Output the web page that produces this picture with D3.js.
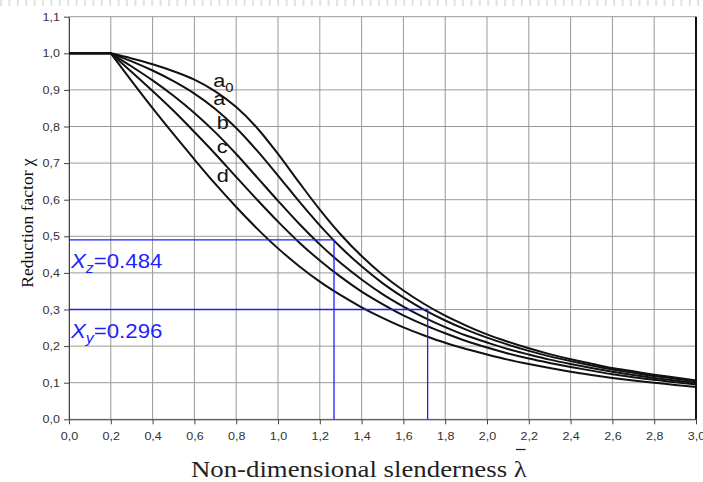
<!DOCTYPE html>
<html>
<head>
<meta charset="utf-8">
<script src="https://cdn.jsdelivr.net/npm/d3@7"></script>
<style>
	body { margin: 0; background: #fff; }
	svg { display: block; }
	.tick text { font-family: Arial, "Liberation Sans", sans-serif; font-size: 11px; fill: #333; }
</style>
</head>
<body>
<svg width="703" height="482"></svg>
<script>
// slenderness values
var lambdas = [0, 0.1, 0.2, 0.3, 0.4, 0.5, 0.6, 0.7, 0.8, 0.9, 1.0, 1.1, 1.2, 1.3, 1.4, 1.5,
	1.6, 1.7, 1.8, 1.9, 2.0, 2.1, 2.2, 2.3, 2.4, 2.5, 2.6, 2.7, 2.8, 2.9, 3.0]

// reduction factor
var curveA0 = [1, 1, 1, 0.986, 0.970, 0.951, 0.928, 0.896, 0.853, 0.796, 0.725, 0.648, 0.573, 0.505, 0.446, 0.395,
	0.352, 0.315, 0.283, 0.256, 0.232, 0.212, 0.194, 0.178, 0.164, 0.152, 0.140, 0.131, 0.122, 0.114, 0.106]
var curveA = [1, 1, 1, 0.978, 0.953, 0.924, 0.890, 0.848, 0.796, 0.734, 0.666, 0.596, 0.530, 0.470, 0.418, 0.372,
	0.333, 0.299, 0.270, 0.245, 0.223, 0.204, 0.187, 0.172, 0.159, 0.147, 0.136, 0.127, 0.118, 0.111, 0.104]
var curveB = [1, 1, 1, 0.964, 0.926, 0.884, 0.837, 0.784, 0.725, 0.661, 0.597, 0.535, 0.478, 0.427, 0.382, 0.342,
	0.308, 0.278, 0.252, 0.229, 0.210, 0.192, 0.177, 0.163, 0.151, 0.140, 0.130, 0.121, 0.113, 0.106, 0.099]
var curveC = [1, 1, 1, 0.949, 0.897, 0.843, 0.785, 0.725, 0.662, 0.600, 0.540, 0.484, 0.434, 0.389, 0.349, 0.315,
	0.284, 0.258, 0.235, 0.214, 0.196, 0.180, 0.166, 0.154, 0.143, 0.133, 0.123, 0.115, 0.108, 0.101, 0.095]
var curveD = [1, 1, 1, 0.924, 0.850, 0.779, 0.710, 0.643, 0.580, 0.521, 0.467, 0.419, 0.376, 0.339, 0.306, 0.277,
	0.251, 0.229, 0.209, 0.192, 0.177, 0.163, 0.151, 0.140, 0.130, 0.121, 0.113, 0.106, 0.100, 0.094, 0.088]

var curveNames = ["a0", "a", "b", "c", "d"]
var curveValues = [curveA0, curveA, curveB, curveC, curveD]
// where each curve name sits (lambda, chi)
var labelLambda = [0.69, 0.69, 0.707, 0.707, 0.707]
var labelChi = [0.908, 0.858, 0.793, 0.727, 0.647]

// design points
var markLambda = [1.268, 1.716]
var markChi = [0.49, 0.30]
var markSub = ["z", "y"]
var markText = ["=0.484", "=0.296"]

var xTicks = d3.range(0, 3.01, 0.2)
var yTicks = d3.range(0, 1.11, 0.1)
var commaFmt = function (d) { return d3.format(".1f")(d).replace(".", ",") }
var stretch = 1.14 // the picture is a bit wider than tall

var svg = d3.select("svg")
var x = d3.scaleLinear().domain([0, 3]).range([69, 696])
var y = d3.scaleLinear().domain([0, 1.1]).range([419.3, 16.7])

// faint dashed strip along the top edge
svg.append("line")
	.attr("x1", 0).attr("x2", 703).attr("y1", 3).attr("y2", 3)
	.attr("stroke", "#e2e2e2").attr("stroke-width", 6).attr("stroke-dasharray", "2,6.4")

// grid
var grid = svg.append("g").attr("stroke", "#999").attr("stroke-width", 1)
grid.selectAll(".gx").data(xTicks).enter().append("line")
	.attr("x1", function (d) { return x(d) }).attr("x2", function (d) { return x(d) })
	.attr("y1", y(1.1)).attr("y2", y(0))
grid.selectAll(".gy").data(yTicks).enter().append("line")
	.attr("x1", x(0)).attr("x2", x(3))
	.attr("y1", function (d) { return y(d) }).attr("y2", function (d) { return y(d) })

// axes
var xAxis = svg.append("g")
	.attr("transform", "translate(0," + y(0) + ")")
	.call(d3.axisBottom(x).tickValues(xTicks).tickFormat(commaFmt).tickSize(5).tickSizeOuter(0).tickPadding(8))
var yAxis = svg.append("g")
	.attr("transform", "translate(" + x(0) + ",0)")
	.call(d3.axisLeft(y).tickValues(yTicks).tickFormat(commaFmt).tickSize(5).tickSizeOuter(0).tickPadding(4))
xAxis.selectAll("path, line").attr("stroke", "#444")
yAxis.selectAll("path, line").attr("stroke", "#444")
xAxis.selectAll(".tick text").attr("transform", "scale(" + stretch + ",1)")
yAxis.selectAll(".tick text").attr("x", 0).attr("transform", "translate(-9,0) scale(" + stretch + ",1)")

// right border
svg.append("line")
	.attr("x1", x(3)).attr("x2", x(3)).attr("y1", y(1.1)).attr("y2", y(0))
	.attr("stroke", "#111").attr("stroke-width", 2)

// curves: flat part up to 0.2, then the falling branch
var line = d3.line()
	.x(function (d) { return x(d[0]) })
	.y(function (d) { return y(d[1]) })
	.curve(d3.curveMonotoneX)
var curves = svg.append("g").attr("fill", "none").attr("stroke", "#111").attr("stroke-width", 2)
curveValues.forEach(function (vals) {
	var pts = vals.map(function (v, i) { return [lambdas[i], v] })
	curves.append("path").attr("d", line(pts.slice(0, 3)))
	curves.append("path").attr("d", line(pts.slice(2)))
})

// curve names
var names = svg.append("g")
	.attr("font-family", "Arial, 'Liberation Sans', sans-serif").attr("font-size", 19).attr("fill", "#111")
curveNames.forEach(function (n, i) {
	var t = names.append("text")
		.attr("transform", "translate(" + x(labelLambda[i]) + "," + y(labelChi[i]) + ") scale(" + stretch + ",1)")
	t.append("tspan").text(n[0])
	if (n.length > 1) t.append("tspan").attr("font-size", 13).attr("dy", 5).text(n.slice(1))
})

// design point lines
var blue = "#1f1fff"
var marks = svg.append("g").attr("stroke", blue).attr("stroke-width", 1.3).attr("fill", "none")
markLambda.forEach(function (l, i) {
	marks.append("polyline")
		.attr("points", [[x(0), y(markChi[i])], [x(l), y(markChi[i])], [x(l), y(0)]].join(" "))
})

var markLabels = svg.append("g")
	.attr("font-family", "Arial, 'Liberation Sans', sans-serif").attr("font-size", 19.5).attr("fill", blue)
markChi.forEach(function (c, i) {
	var t = markLabels.append("text")
		.attr("transform", "translate(" + (x(0) + 2) + "," + (y(c) + 28) + ") scale(" + stretch + ",1)")
	t.append("tspan").attr("font-style", "italic").text("X")
	t.append("tspan").attr("font-style", "italic").attr("font-size", 14).attr("dy", 5).text(markSub[i])
	t.append("tspan").attr("dy", -5).text(markText[i])
})

// axis titles
svg.append("text")
	.attr("transform", "translate(33,223) rotate(-90)")
	.attr("text-anchor", "middle")
	.attr("font-family", "'Liberation Serif', 'Times New Roman', serif").attr("font-size", 17.5).attr("fill", "#111")
	.text("Reduction factor χ")

var xt = svg.append("text")
	.attr("transform", "translate(191,477) scale(" + stretch + ",1)")
	.attr("font-family", "'Liberation Serif', 'Times New Roman', serif").attr("font-size", 23.5).attr("fill", "#222")
xt.append("tspan").text("Non-dimensional slenderness ")
var lam = xt.append("tspan").text("λ")
var bb = lam.node().getExtentOfChar(0)
svg.append("line")
	.attr("x1", 191 + (bb.x + 2) * stretch).attr("x2", 191 + (bb.x + bb.width - 1) * stretch)
	.attr("y1", 449.5).attr("y2", 449.5)
	.attr("stroke", "#222").attr("stroke-width", 1.2)
</script>
</body>
</html>
